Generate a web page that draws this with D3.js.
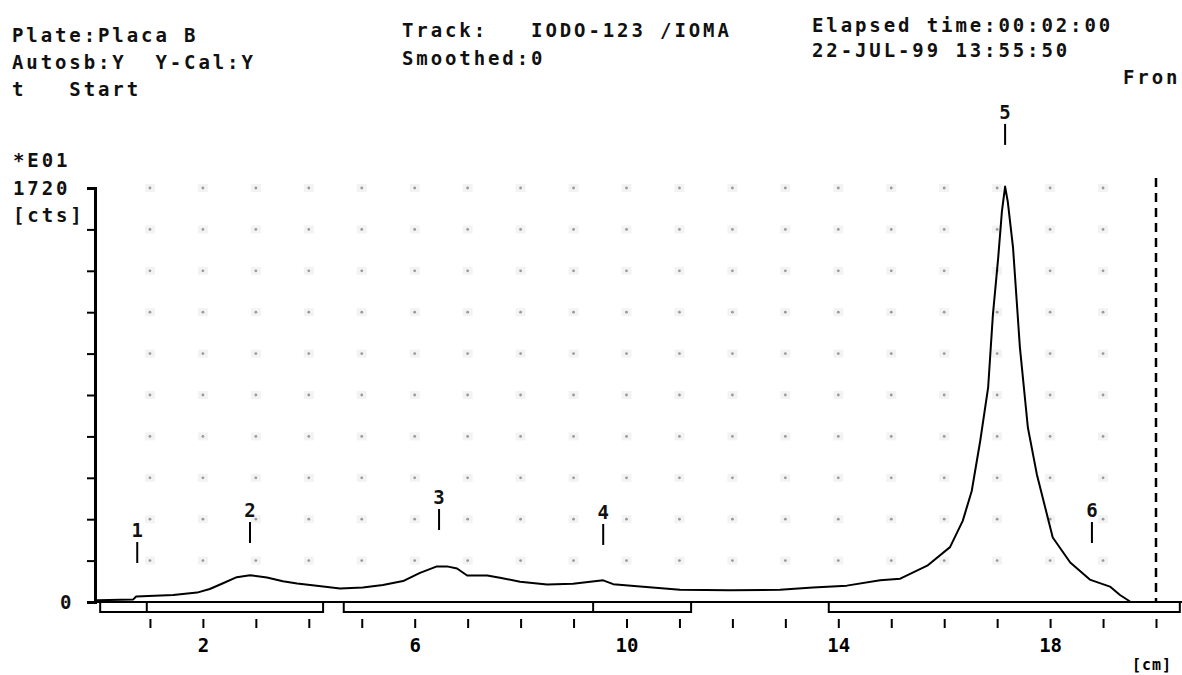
<!DOCTYPE html>
<html>
<head>
<meta charset="utf-8">
<script src="https://cdn.jsdelivr.net/npm/d3@7"></script>
<style>
  html, body { margin: 0; padding: 0; background: #fff; }
  svg { display: block; }
  .hdr { font-family: "DejaVu Sans Mono", monospace; font-weight: bold; font-size: 19px; letter-spacing: 2.9px; fill: #111; }
</style>
</head>
<body>
<svg id="chart" width="1182" height="675"></svg>
<script>
// ---- data ----
const positionCm = [0.0, 0.68, 0.74, 1.44, 1.89, 2.13, 2.38, 2.64, 2.89, 3.21, 3.51, 3.78, 4.15, 4.59, 5.02, 5.40, 5.78, 6.10, 6.42, 6.61, 6.80, 6.99, 7.37, 7.61, 7.99, 8.50, 8.99, 9.56, 9.75, 10.20, 11.01, 11.95, 12.90, 13.52, 14.16, 14.79, 15.17, 15.68, 16.11, 16.35, 16.52, 16.68, 16.83, 16.92, 17.02, 17.09, 17.15, 17.20, 17.30, 17.43, 17.58, 17.75, 18.05, 18.38, 18.75, 19.13, 19.32, 19.51];
const countsCts = [7, 10, 23, 29, 39, 54, 78, 103, 111, 102, 86, 77, 68, 56, 60, 71, 87, 121, 148, 148, 139, 110, 110, 101, 84, 73, 76, 90, 74, 65, 51, 49, 51, 60, 68, 90, 97, 151, 228, 337, 461, 669, 892, 1194, 1431, 1623, 1726, 1664, 1472, 1057, 725, 530, 268, 164, 93, 64, 29, 2];

const peakLabels = ["1", "2", "3", "4", "5", "6"];
const peakCm = [0.76, 2.89, 6.46, 9.56, 17.15, 18.79];
const peakMarkLevel = [162, 245, 299, 237, 1899, 245];

const regionStart = [0.06, 4.66, 13.82];
const regionEnd = [4.27, 11.22, 20.45];
const regionSplit = [0.94, 9.37];

const xTicks = d3.range(1, 21);
const xTickLabels = [2, 6, 10, 14, 18];
const yTicks = d3.range(0, 1721, 172);
const yMax = 1720;
const frontCm = 20;

const headerLines = [
  {t: "Plate:Placa B", x: 12, y: 42},
  {t: "Autosb:Y  Y-Cal:Y", x: 12, y: 69},
  {t: "t   Start", x: 12, y: 96},
  {t: "Track:   IODO-123 /IOMA", x: 402, y: 37},
  {t: "Smoothed:0", x: 402, y: 65},
  {t: "Elapsed time:00:02:00", x: 812, y: 32},
  {t: "22-JUL-99 13:55:50", x: 812, y: 57},
  {t: "Fron", x: 1123, y: 84}
];

// ---- drawing ----
const svg = d3.select("#chart");
svg.append("rect").attr("width", 1182).attr("height", 675).attr("fill", "#fff");

const x = d3.scaleLinear().domain([0, 20]).range([97, 1156]);
const y = d3.scaleLinear().domain([0, yMax]).range([602, 188]);

// grid dots
const gridX = xTicks.filter(d => d < frontCm);
const gridY = yTicks.filter(d => d > 0);
const dots = [];
gridX.forEach(a => gridY.forEach(b => dots.push([a, b])));
const gd = svg.append("g");
gd.selectAll("rect.halo").data(dots).join("rect")
  .attr("x", d => x(d[0]) - 5).attr("y", d => y(d[1]) - 4)
  .attr("width", 10).attr("height", 8).attr("fill", "#f3f3f3");
gd.selectAll("circle").data(dots).join("circle")
  .attr("cx", d => x(d[0])).attr("cy", d => y(d[1])).attr("r", 1.4)
  .attr("fill", "#9a9a9a");

// header texts
svg.selectAll("text.hdr").data(headerLines).join("text")
  .attr("class", "hdr").attr("x", d => d.x).attr("y", d => d.y).text(d => d.t)
  .style("white-space", "pre").attr("xml:space", "preserve");

// y-axis labels
const yl = svg.append("g");
yl.append("text").attr("class", "hdr").attr("x", 13).attr("y", 167).text("*E01");
yl.append("text").attr("class", "hdr").attr("x", 13).attr("y", 195).text(String(yMax));
yl.append("text").attr("class", "hdr").attr("x", 13).attr("y", 222).text("[cts]");
yl.append("text").attr("class", "hdr").attr("x", 60).attr("y", 609).text("0");

// y axis
const yAxis = d3.axisLeft(y).tickValues(yTicks).tickSize(8).tickSizeOuter(8).tickFormat("");
const yg = svg.append("g").attr("transform", "translate(95,0)").call(yAxis);
yg.select(".domain").attr("stroke", "#000").attr("stroke-width", 3);
yg.selectAll(".tick line").attr("stroke", "#000").attr("stroke-width", 2);

// baseline
svg.append("line").attr("x1", 89).attr("x2", 1182).attr("y1", y(0)).attr("y2", y(0))
  .attr("stroke", "#000").attr("stroke-width", 2.2);

// region bars
const rg = svg.append("g");
rg.selectAll("rect").data(regionStart).join("rect")
  .attr("x", (d, i) => x(d)).attr("y", y(0))
  .attr("width", (d, i) => x(regionEnd[i]) - x(d)).attr("height", 10)
  .attr("fill", "none").attr("stroke", "#000").attr("stroke-width", 2);
rg.selectAll("line").data(regionSplit).join("line")
  .attr("x1", d => x(d)).attr("x2", d => x(d)).attr("y1", y(0)).attr("y2", y(0) + 10)
  .attr("stroke", "#000").attr("stroke-width", 2);

// x axis ticks and labels
const xAxis = d3.axisBottom(x).tickValues(xTicks).tickSize(9).tickPadding(11)
  .tickFormat(d => xTickLabels.includes(d) ? String(d) : "");
const xg = svg.append("g").attr("transform", "translate(0,619)").call(xAxis);
xg.select(".domain").remove();
xg.selectAll(".tick line").attr("stroke", "#000").attr("stroke-width", 2);
xg.selectAll(".tick text").attr("fill", "#000")
  .style("font-family", "'DejaVu Sans Mono', monospace").style("font-weight", "bold").style("font-size", "19px");

svg.append("text").attr("x", 1132).attr("y", 670)
  .style("font-family", "'DejaVu Sans Mono', monospace").style("font-weight", "bold")
  .style("font-size", "15px").style("letter-spacing", "1px").text("[cm]");

// front dashed line
svg.append("line").attr("x1", x(frontCm)).attr("x2", x(frontCm))
  .attr("y1", 178).attr("y2", y(0))
  .attr("stroke", "#000").attr("stroke-width", 2.5).attr("stroke-dasharray", "9,6");

// curve
const pts = positionCm.map((c, i) => [c, countsCts[i]]);
svg.append("path").datum(pts)
  .attr("d", d3.line().x(d => x(d[0])).y(d => y(d[1])))
  .attr("fill", "none").attr("stroke", "#000").attr("stroke-width", 2).attr("stroke-linejoin", "round");

// peak markers
const pk = svg.append("g");
peakLabels.forEach((lab, i) => {
  const px = x(peakCm[i]);
  const by = y(peakMarkLevel[i]);
  pk.append("line").attr("x1", px).attr("x2", px).attr("y1", by - 21).attr("y2", by)
    .attr("stroke", "#000").attr("stroke-width", 2);
  pk.append("text").attr("x", px).attr("y", by - 26).attr("text-anchor", "middle")
    .style("font-family", "'DejaVu Sans Mono', monospace").style("font-weight", "bold")
    .style("font-size", "19px").attr("fill", "#111").text(lab);
});
</script>
</body>
</html>
